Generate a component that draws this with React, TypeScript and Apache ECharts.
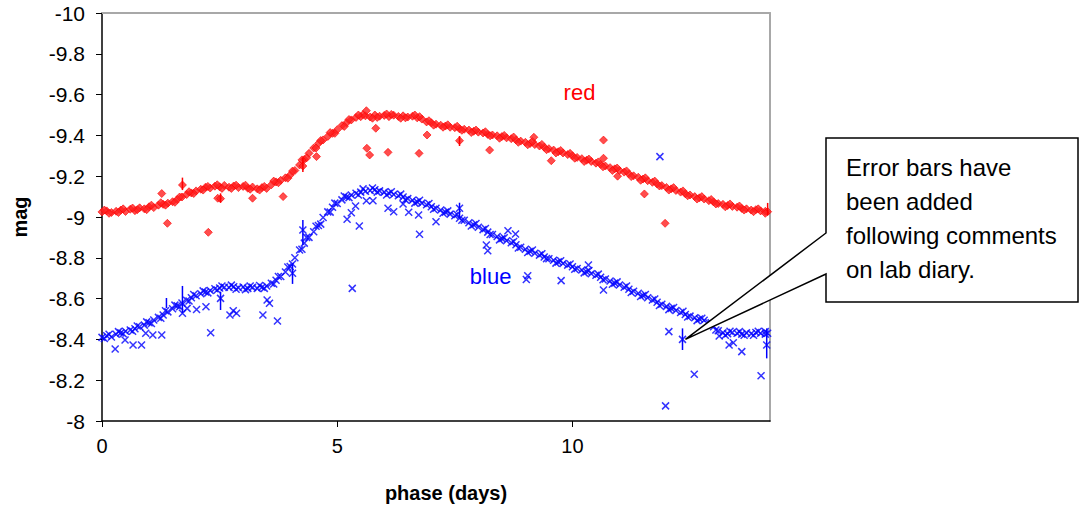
import React, { useEffect, useRef } from "react";
import * as echarts from "echarts";

const FONT = "'Liberation Sans', Arial, Helvetica, sans-serif";

// x-axis ticks and y-axis range
const xTicks = [0, 5, 10];
const yMin = -10;
const yMax = -8;

// red light curve: [phase (days), mag]
const redTrend: number[][] = [
  [0.0, -9.025], [0.1, -9.03], [0.2, -9.022], [0.3, -9.028], [0.4, -9.034], [0.5, -9.027], [0.6, -9.038], [0.7, -9.031],
  [0.8, -9.045], [0.9, -9.04], [1.0, -9.05], [1.1, -9.046], [1.2, -9.058], [1.3, -9.062], [1.4, -9.068], [1.5, -9.075],
  [1.6, -9.086], [1.7, -9.098], [1.8, -9.11], [1.9, -9.118], [2.0, -9.128], [2.1, -9.136], [2.2, -9.146], [2.3, -9.142],
  [2.4, -9.151], [2.5, -9.148], [2.6, -9.155], [2.7, -9.146], [2.8, -9.152], [2.9, -9.144], [3.0, -9.15], [3.1, -9.141],
  [3.2, -9.147], [3.3, -9.138], [3.4, -9.144], [3.5, -9.14], [3.6, -9.158], [3.7, -9.172], [3.8, -9.18], [3.9, -9.192],
  [4.0, -9.206], [4.1, -9.228], [4.2, -9.255], [4.3, -9.282], [4.4, -9.312], [4.5, -9.338], [4.6, -9.36], [4.7, -9.378],
  [4.8, -9.395], [4.9, -9.41], [5.0, -9.428], [5.1, -9.448], [5.2, -9.462], [5.3, -9.476], [5.4, -9.488], [5.5, -9.492],
  [5.6, -9.496], [5.7, -9.49], [5.8, -9.5], [5.9, -9.494], [6.0, -9.498], [6.1, -9.492], [6.2, -9.499], [6.3, -9.493],
  [6.4, -9.496], [6.5, -9.49], [6.6, -9.494], [6.7, -9.486], [6.8, -9.48], [6.9, -9.466], [7.0, -9.462], [7.1, -9.455],
  [7.2, -9.45], [7.3, -9.446], [7.4, -9.44], [7.5, -9.438], [7.6, -9.432], [7.7, -9.43], [7.8, -9.426], [7.9, -9.42],
  [8.0, -9.416], [8.1, -9.412], [8.2, -9.405], [8.3, -9.402], [8.4, -9.398], [8.5, -9.394], [8.6, -9.388], [8.7, -9.384],
  [8.8, -9.378], [8.9, -9.372], [9.0, -9.366], [9.1, -9.36], [9.2, -9.355], [9.3, -9.348], [9.4, -9.342], [9.5, -9.335],
  [9.6, -9.328], [9.7, -9.32], [9.8, -9.314], [9.9, -9.306], [10.0, -9.3], [10.1, -9.292], [10.2, -9.286], [10.3, -9.278],
  [10.4, -9.272], [10.5, -9.264], [10.6, -9.258], [10.7, -9.25], [10.8, -9.242], [10.9, -9.236], [11.0, -9.228], [11.1, -9.22],
  [11.2, -9.212], [11.3, -9.202], [11.4, -9.195], [11.5, -9.186], [11.6, -9.178], [11.7, -9.17], [11.8, -9.162], [11.9, -9.154],
  [12.0, -9.145], [12.1, -9.138], [12.2, -9.13], [12.3, -9.122], [12.4, -9.114], [12.5, -9.108], [12.6, -9.1], [12.7, -9.094],
  [12.8, -9.088], [12.9, -9.08], [13.0, -9.074], [13.1, -9.066], [13.2, -9.062], [13.3, -9.056], [13.4, -9.052], [13.5, -9.048],
  [13.6, -9.042], [13.7, -9.04], [13.8, -9.034], [13.9, -9.036], [14.0, -9.03], [14.1, -9.028], [14.15, -9.026],
];

const redScatterA: number[][] = [
  [0.15, -9.018], [0.45, -9.04], [0.75, -9.036], [1.05, -9.058], [1.35, -9.058], [1.65, -9.098], [1.95, -9.115], [2.25, -9.15],
  [2.55, -9.14], [2.85, -9.156], [3.15, -9.136], [3.45, -9.15], [3.75, -9.168], [4.05, -9.225], [4.35, -9.29], [4.65, -9.375],
  [4.95, -9.41], [5.25, -9.478], [5.55, -9.502], [5.85, -9.488], [6.15, -9.503], [6.45, -9.486], [6.75, -9.492], [7.05, -9.45],
  [7.35, -9.452], [7.65, -9.425], [7.95, -9.426], [8.25, -9.398], [8.55, -9.4], [8.85, -9.366], [9.15, -9.37], [9.45, -9.33],
  [9.75, -9.326], [10.05, -9.288], [10.35, -9.284], [10.65, -9.246], [10.95, -9.24], [11.25, -9.198], [11.55, -9.192], [11.85, -9.152],
  [12.15, -9.144], [12.45, -9.104], [12.75, -9.1], [13.05, -9.064], [13.35, -9.064], [13.65, -9.034], [13.95, -9.04],
];

const redScatterB: number[][] = [
  [0.05, -9.034], [0.35, -9.022], [0.65, -9.044], [0.95, -9.036], [1.25, -9.07], [1.55, -9.072], [1.85, -9.124], [2.15, -9.132],
  [2.45, -9.158], [2.75, -9.14], [3.05, -9.156], [3.35, -9.132], [3.65, -9.176], [3.95, -9.19], [4.25, -9.28], [4.55, -9.338],
  [4.85, -9.414], [5.15, -9.444], [5.45, -9.5], [5.75, -9.484], [6.05, -9.505], [6.35, -9.484], [6.65, -9.5], [6.95, -9.472],
  [7.25, -9.44], [7.55, -9.445], [7.85, -9.414], [8.15, -9.418], [8.45, -9.386], [8.75, -9.392], [9.05, -9.354], [9.35, -9.356],
  [9.65, -9.314], [9.95, -9.312], [10.25, -9.272], [10.55, -9.27], [10.85, -9.228], [11.15, -9.226], [11.45, -9.18], [11.75, -9.176],
  [12.05, -9.132], [12.35, -9.128], [12.65, -9.088], [12.95, -9.086], [13.25, -9.05], [13.55, -9.054], [13.85, -9.026], [14.1, -9.018],
];

const redOutliers: number[][] = [
  [1.39, -8.969], [2.26, -8.925], [3.85, -9.1], [3.2, -9.092], [2.46, -9.092], [1.71, -9.157], [2.52, -9.09], [1.27, -9.115],
  [5.63, -9.337], [5.69, -9.304], [6.08, -9.317], [6.74, -9.312], [6.91, -9.402], [5.82, -9.435], [5.62, -9.521], [4.56, -9.296],
  [8.24, -9.328], [7.6, -9.374], [9.18, -9.391], [9.55, -9.276], [10.66, -9.377], [10.66, -9.288], [11.53, -9.113], [11.97, -8.969],
  [10.96, -9.2], [4.27, -9.25],
];

// error bars: [phase, low, high]
const redErrors: number[][] = [
  [1.71, -9.193, -9.132], [2.52, -9.116, -9.07], [4.27, -9.29, -9.22], [7.6, -9.397, -9.348], [14.15, -9.069, -9.01],
];

// blue light curve: [phase (days), mag]
const blueTrend: number[][] = [
  [0.0, -8.41], [0.1, -8.418], [0.2, -8.412], [0.3, -8.425], [0.4, -8.432], [0.5, -8.44], [0.6, -8.446], [0.7, -8.452],
  [0.8, -8.462], [0.9, -8.47], [1.0, -8.482], [1.1, -8.495], [1.2, -8.508], [1.3, -8.52], [1.4, -8.535], [1.5, -8.55],
  [1.6, -8.565], [1.7, -8.578], [1.8, -8.592], [1.9, -8.604], [2.0, -8.614], [2.1, -8.624], [2.2, -8.632], [2.3, -8.64],
  [2.4, -8.648], [2.5, -8.652], [2.6, -8.656], [2.7, -8.654], [2.8, -8.658], [2.9, -8.653], [3.0, -8.657], [3.1, -8.65],
  [3.2, -8.655], [3.3, -8.65], [3.4, -8.656], [3.5, -8.662], [3.6, -8.675], [3.7, -8.69], [3.8, -8.708], [3.9, -8.73],
  [4.0, -8.757], [4.1, -8.8], [4.2, -8.838], [4.3, -8.872], [4.4, -8.9], [4.5, -8.928], [4.6, -8.958], [4.7, -8.998],
  [4.8, -9.025], [4.9, -9.048], [5.0, -9.066], [5.1, -9.084], [5.2, -9.098], [5.3, -9.108], [5.4, -9.116], [5.5, -9.122],
  [5.6, -9.126], [5.7, -9.13], [5.8, -9.134], [5.9, -9.128], [6.0, -9.122], [6.1, -9.116], [6.2, -9.11], [6.3, -9.104],
  [6.4, -9.098], [6.5, -9.09], [6.6, -9.082], [6.7, -9.074], [6.8, -9.068], [6.9, -9.06], [7.0, -9.05], [7.1, -9.043],
  [7.2, -9.034], [7.3, -9.024], [7.4, -9.014], [7.5, -9.006], [7.6, -8.994], [7.7, -8.984], [7.8, -8.972], [7.9, -8.962],
  [8.0, -8.95], [8.1, -8.938], [8.2, -8.926], [8.3, -8.914], [8.4, -8.904], [8.5, -8.894], [8.6, -8.884], [8.7, -8.874],
  [8.8, -8.864], [8.9, -8.852], [9.0, -8.842], [9.1, -8.832], [9.2, -8.822], [9.3, -8.813], [9.4, -8.804], [9.5, -8.795],
  [9.6, -8.788], [9.7, -8.78], [9.8, -8.772], [9.9, -8.764], [10.0, -8.756], [10.1, -8.748], [10.2, -8.74], [10.3, -8.732],
  [10.4, -8.722], [10.5, -8.714], [10.6, -8.705], [10.7, -8.696], [10.8, -8.686], [10.9, -8.676], [11.0, -8.667], [11.1, -8.656],
  [11.2, -8.646], [11.3, -8.636], [11.4, -8.626], [11.5, -8.615], [11.6, -8.604], [11.7, -8.593], [11.8, -8.582], [11.9, -8.572],
  [12.0, -8.562], [12.1, -8.552], [12.2, -8.542], [12.3, -8.532], [12.4, -8.522], [12.5, -8.514], [12.6, -8.506], [12.7, -8.5],
  [12.8, -8.494], [12.9, -8.482], [13.0, -8.462], [13.1, -8.442], [13.2, -8.432], [13.3, -8.428], [13.4, -8.434], [13.5, -8.43],
  [13.6, -8.426], [13.7, -8.432], [13.8, -8.428], [13.9, -8.434], [14.0, -8.43], [14.1, -8.426], [14.15, -8.43],
];

const blueScatterA: number[][] = [
  [0.15, -8.425], [0.45, -8.428], [0.75, -8.466], [1.05, -8.478], [1.35, -8.54], [1.65, -8.56], [1.95, -8.62], [2.25, -8.628],
  [2.55, -8.662], [2.85, -8.646], [3.15, -8.662], [3.45, -8.65], [3.75, -8.708], [4.05, -8.77], [4.35, -8.9], [4.65, -8.965],
  [4.95, -9.068], [5.25, -9.095], [5.55, -9.138], [5.85, -9.122], [6.15, -9.124], [6.45, -9.084], [6.75, -9.082], [7.05, -9.038],
  [7.35, -9.03], [7.65, -8.984], [7.95, -8.968], [8.25, -8.914], [8.55, -8.898], [8.85, -8.848], [9.15, -8.838], [9.45, -8.796],
  [9.75, -8.786], [10.05, -8.744], [10.35, -8.738], [10.65, -8.692], [10.95, -8.682], [11.25, -8.63], [11.55, -8.62], [11.85, -8.566],
  [12.15, -8.556], [12.45, -8.51], [12.75, -8.504], [13.05, -8.446], [13.35, -8.44], [13.65, -8.42], [13.95, -8.44],
];

const blueScatterB: number[][] = [
  [0.05, -8.404], [0.35, -8.438], [0.65, -8.44], [0.95, -8.486], [1.25, -8.504], [1.55, -8.568], [1.85, -8.588], [2.15, -8.638],
  [2.45, -8.642], [2.75, -8.666], [3.05, -8.644], [3.35, -8.664], [3.65, -8.672], [3.95, -8.755], [4.25, -8.842], [4.55, -8.955],
  [4.85, -9.024], [5.15, -9.103], [5.45, -9.108], [5.75, -9.142], [6.05, -9.108], [6.35, -9.112], [6.65, -9.068], [6.95, -9.066],
  [7.25, -9.018], [7.55, -9.012], [7.85, -8.956], [8.15, -8.944], [8.45, -8.888], [8.75, -8.88], [9.05, -8.826], [9.35, -8.82],
  [9.65, -8.774], [9.95, -8.77], [10.25, -8.726], [10.55, -8.72], [10.85, -8.67], [11.15, -8.662], [11.45, -8.61], [11.75, -8.598],
  [12.05, -8.546], [12.35, -8.538], [12.65, -8.492], [12.95, -8.482], [13.25, -8.42], [13.55, -8.438], [13.85, -8.42], [14.1, -8.438],
];

const blueOutliers: number[][] = [
  [0.28, -8.353], [0.66, -8.373], [0.84, -8.373], [0.49, -8.397], [0.93, -8.43], [1.08, -8.422], [1.27, -8.422], [1.71, -8.528],
  [1.81, -8.552], [2.01, -8.547], [2.21, -8.56], [2.31, -8.433], [2.52, -8.601], [2.72, -8.52], [2.79, -8.54], [2.86, -8.528],
  [3.42, -8.52], [3.51, -8.593], [3.56, -8.577], [3.73, -8.49], [4.05, -8.724], [4.27, -8.936], [5.32, -8.65], [5.47, -8.956],
  [5.21, -8.989], [5.3, -9.021], [5.39, -9.054], [5.62, -9.08], [5.76, -9.08], [6.08, -9.043], [6.2, -9.026], [6.4, -9.064],
  [6.52, -9.023], [6.73, -9.01], [6.75, -8.915], [7.1, -8.977], [7.6, -9.043], [8.17, -8.863], [8.2, -8.835], [8.63, -8.933],
  [8.79, -8.917], [9.02, -8.694], [9.05, -8.712], [9.76, -8.688], [10.34, -8.765], [10.66, -8.642], [11.86, -9.296], [12.05, -8.438],
  [12.34, -8.4], [12.59, -8.229], [11.98, -8.074], [14.01, -8.222], [13.12, -8.417], [13.33, -8.373], [13.42, -8.384], [13.6, -8.34],
  [14.13, -8.373],
];

const blueErrors: number[][] = [
  [1.37, -8.603, -8.554], [1.71, -8.662, -8.528], [2.52, -8.634, -8.544], [4.05, -8.773, -8.672], [4.27, -8.985, -8.863],
  [7.6, -9.07, -8.994], [12.34, -8.454, -8.348], [14.13, -8.454, -8.307],
];

// in-chart labels: [phase, mag]
const redLabelAt = [10.15, -9.608];
const blueLabelAt = [8.26, -8.706];
const calloutTarget = [12.36, -8.4];
const calloutLines = ["Error bars have", "been added", "following comments", "on lab diary."];

function errorSeries(data: number[][], color: string) {
  return {
    type: "custom",
    data,
    z: 3,
    renderItem: (_p: any, api: any) => {
      const lo = api.coord([api.value(0), api.value(1)]);
      const hi = api.coord([api.value(0), api.value(2)]);
      return {
        type: "line",
        shape: { x1: lo[0], y1: lo[1], x2: hi[0], y2: hi[1] },
        style: { stroke: color, lineWidth: 1.5 },
      };
    },
  };
}

export default function App() {
  const ref = useRef<HTMLDivElement>(null);
  useEffect(() => {
    if (!ref.current) return;
    const chart = echarts.init(ref.current, null, { renderer: "svg" });
    const crossPath = "path://M0,0L10,10M10,0L0,10";
    const option: any = {
      animation: false,
      grid: { left: 102, right: 312, top: 13, bottom: 87 },
      xAxis: [
        {
          type: "value",
          min: 0,
          max: 14.2,
          interval: 5,
          axisLine: { show: true, onZero: false, lineStyle: { color: "#000", width: 1.5 } },
          axisTick: { show: true, length: 6, customValues: xTicks, lineStyle: { color: "#000" } },
          axisLabel: { customValues: xTicks, fontSize: 20, color: "#000", margin: 15, fontFamily: FONT },
          splitLine: { show: false },
          name: "phase (days)",
          nameLocation: "middle",
          nameGap: 62,
          nameTextStyle: { fontWeight: "bold", fontSize: 20, color: "#000", fontFamily: FONT, padding: [0, 0, 0, 20] },
        },
        {
          type: "value",
          position: "top",
          min: 0,
          max: 14.2,
          axisLine: { show: true, onZero: false, lineStyle: { color: "#a8a8a8", width: 2 } },
          axisTick: { show: false },
          axisLabel: { show: false },
          splitLine: { show: false },
        },
      ],
      yAxis: [
        {
          type: "value",
          inverse: true,
          min: yMin,
          max: yMax,
          interval: 0.2,
          axisLine: { show: true, onZero: false, lineStyle: { color: "#000", width: 1.5 } },
          axisTick: { show: true, length: 6, lineStyle: { color: "#000" } },
          axisLabel: { fontSize: 21, color: "#000", margin: 17, fontFamily: FONT },
          splitLine: { show: false },
          name: "mag",
          nameLocation: "middle",
          nameGap: 72,
          nameRotate: 90,
          nameTextStyle: { fontWeight: "bold", fontSize: 20, color: "#000", fontFamily: FONT },
        },
        {
          type: "value",
          position: "right",
          inverse: true,
          min: yMin,
          max: yMax,
          axisLine: { show: true, onZero: false, lineStyle: { color: "#a8a8a8", width: 2 } },
          axisTick: { show: false },
          axisLabel: { show: false },
          splitLine: { show: false },
        },
      ],
      series: [
        {
          name: "red",
          type: "scatter",
          symbol: "diamond",
          symbolSize: 8,
          data: [...redTrend, ...redScatterA, ...redScatterB, ...redOutliers],
          itemStyle: { color: "#ff2020", borderColor: "#ff0000", borderWidth: 0.8 },
          z: 2,
        },
        {
          name: "blue",
          type: "scatter",
          symbol: crossPath,
          symbolSize: 7,
          data: [...blueTrend, ...blueScatterA, ...blueScatterB, ...blueOutliers],
          itemStyle: { color: "transparent", borderColor: "#0000ff", borderWidth: 1.5 },
          z: 2,
        },
        errorSeries(redErrors, "#ff0000"),
        errorSeries(blueErrors, "#0000ff"),
      ],
    };
    chart.setOption(option);

    const rp = chart.convertToPixel({ gridIndex: 0 }, redLabelAt as any) as number[];
    const bp = chart.convertToPixel({ gridIndex: 0 }, blueLabelAt as any) as number[];
    const tip = chart.convertToPixel({ gridIndex: 0 }, calloutTarget as any) as number[];
    const bx0 = 826, by0 = 138, bx1 = 1078, by1 = 302;
    chart.setOption({
      graphic: [
        {
          type: "text",
          x: rp[0],
          y: rp[1],
          style: { text: "red", fill: "#ff0000", font: `22px ${FONT}`, align: "center", verticalAlign: "middle" },
          z: 10,
        },
        {
          type: "text",
          x: bp[0],
          y: bp[1],
          style: { text: "blue", fill: "#0000ff", font: `22px ${FONT}`, align: "center", verticalAlign: "middle" },
          z: 10,
        },
        {
          type: "polygon",
          shape: {
            points: [
              [bx0, by0], [bx1, by0], [bx1, by1], [bx0, by1], [bx0, 274], [tip[0] + 2, tip[1]], [bx0, 233],
            ],
          },
          style: { fill: "#fff", stroke: "#000", lineWidth: 1.5 },
          z: 10,
        },
        {
          type: "text",
          x: 846,
          y: 150,
          style: {
            text: calloutLines.join("\n"),
            fill: "#000",
            font: `24px ${FONT}`,
            lineHeight: 34,
            verticalAlign: "top",
          },
          z: 11,
        },
      ],
    });
    return () => chart.dispose();
  }, []);
  return (
    <div
      ref={ref}
      style={{ position: "fixed", left: 0, top: 0, width: 1082, height: 508, background: "#fff" }}
    />
  );
}
